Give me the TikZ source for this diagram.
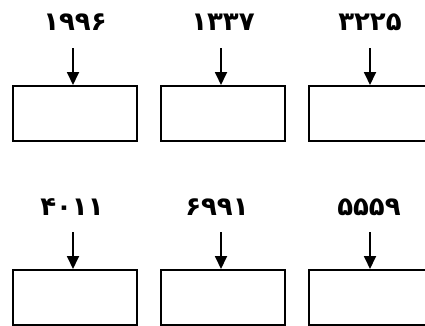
\documentclass[tikz,border=0pt]{standalone}
\usepackage{fontspec}
\newfontfamily\numfont[Script=Arabic]{DejaVu Sans}
\usetikzlibrary{arrows.meta}
\tikzset{
  numlabel/.style={font=\numfont\bfseries\fontsize{26}{30}\selectfont, inner sep=0pt, anchor=center},
  slot/.style={draw, line width=1.6pt, minimum width=124pt, minimum height=55pt, inner sep=0pt, anchor=north west},
  pointer/.style={line width=1.8pt, -{Triangle[length=13pt,width=12pt]}}
}
\begin{document}
\begin{tikzpicture}[x=1pt,y=-1pt]
\clip (0,0) rectangle (425,325);
\fill[white] (0,0) rectangle (425,325);
% top row
\node[numlabel] (t1) at (75,22) {۱۹۹۶};
\node[numlabel] (t2) at (223,22) {۱۳۳۷};
\node[numlabel] (t3) at (370,22) {۳۲۲۵};
\node[slot] (b1) at (12,85) {};
\node[slot] (b2) at (160,85) {};
\node[slot] (b3) at (308,85) {};
\coordinate (s1) at (73,48);
\coordinate (s2) at (221,48);
\coordinate (s3) at (370,48);
\draw[pointer] (s1) -- (s1 |- b1.north);
\draw[pointer] (s2) -- (s2 |- b2.north);
\draw[pointer] (s3) -- (s3 |- b3.north);
% bottom row
\node[numlabel] (t4) at (72,207) {۴۰۱۱};
\node[numlabel] (t5) at (217,207) {۶۹۹۱};
\node[numlabel] (t6) at (369,207) {۵۵۵۹};
\node[slot] (b4) at (12,269) {};
\node[slot] (b5) at (160,269) {};
\node[slot] (b6) at (308,269) {};
\coordinate (s4) at (73,232);
\coordinate (s5) at (221,232);
\coordinate (s6) at (370,232);
\draw[pointer] (s4) -- (s4 |- b4.north);
\draw[pointer] (s5) -- (s5 |- b5.north);
\draw[pointer] (s6) -- (s6 |- b6.north);
\end{tikzpicture}
\end{document}
